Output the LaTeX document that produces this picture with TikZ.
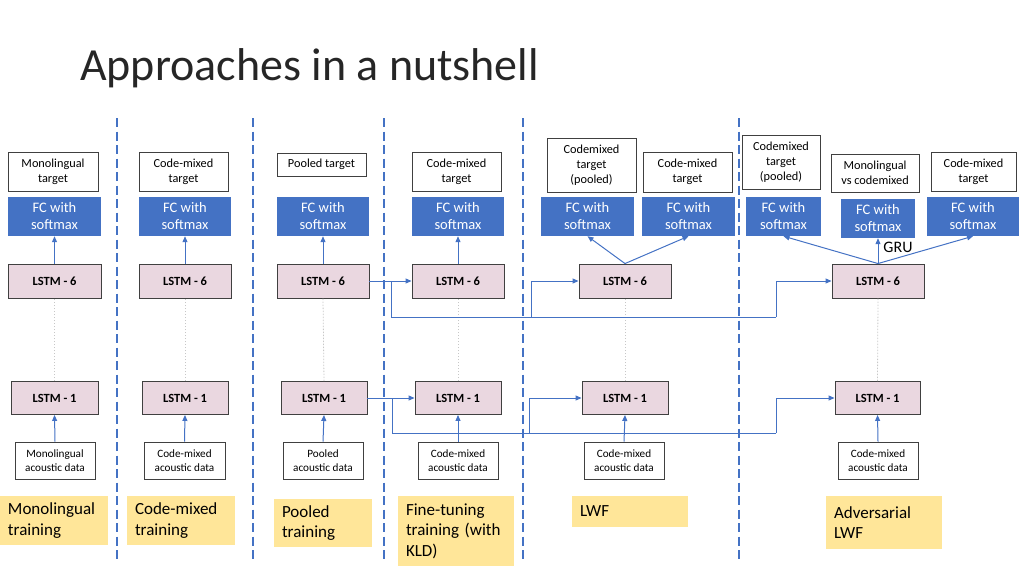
\documentclass[tikz,border=0pt]{standalone}
\usepackage{fontspec}
\setmainfont{Carlito}
\usetikzlibrary{arrows.meta}
\definecolor{fcblue}{RGB}{68,114,196}
\definecolor{pinkl}{RGB}{234,215,224}
\definecolor{yel}{RGB}{255,230,153}
\definecolor{edge}{RGB}{64,64,64}
\tikzset{
  box/.style={inner sep=0pt, align=center},
  tgt/.style={box, draw=edge, fill=white, line width=0.9pt, font=\fontsize{12.3}{15}\selectfont},
  acou/.style={box, draw=edge, fill=white, line width=0.9pt, font=\fontsize{11.2}{14}\selectfont},
  fc/.style={box, fill=fcblue, text=white, font=\fontsize{14.5}{17}\selectfont, minimum height=39pt},
  lstm/.style={box, draw=edge, fill=pinkl, line width=0.9pt, font=\bfseries\fontsize{12.5}{15}\selectfont, minimum height=34pt},
  lab/.style={fill=yel, inner xsep=8pt, inner ysep=0pt, align=left, font=\fontsize{17}{20.5}\selectfont},
  conn/.style={draw=fcblue, line width=1pt},
  arr/.style={conn, -{Triangle[length=6pt,width=5pt]}},
  sep/.style={draw=fcblue, line width=2.7pt, dash pattern=on 9pt off 4.5pt},
  dots/.style={draw=black!22, line width=0.8pt, dash pattern=on 1.5pt off 1.5pt}
}
\begin{document}
\begin{tikzpicture}[x=1pt,y=-1pt]
\useasboundingbox (0,0) rectangle (1024,576);
\node[anchor=base west, inner sep=0pt, font=\fontsize{46}{50}\selectfont, text={rgb,255:red,38;green,38;blue,38}] (title) at (80,80) {Approaches in a nutshell};

% separators
\foreach \x in {117,253,384,523,739} {\draw[sep] (\x,118) -- (\x,562);}

% column 1
\node[tgt, minimum width=90pt, minimum height=39pt] (t1) at (53,171.5) {Monolingual\\target};
\node[fc, minimum width=93pt] (f1) at (54.5,216.5) {FC with\\softmax};
\node[lstm, minimum width=93pt] (l6a) at (54.5,281) {LSTM - 6};
\node[lstm, minimum width=87pt, minimum height=33pt] (l1a) at (54.5,398) {LSTM - 1};
\node[acou, minimum width=80pt, minimum height=37pt] (a1) at (55,460.5) {Monolingual\\acoustic data};
\node[lab, text width=92pt, minimum height=49pt] (y1) at (54,520.5) {Monolingual\\training};

% column 2
\node[tgt, minimum width=89pt, minimum height=39pt] (t2) at (183.5,171.5) {Code-mixed\\target};
\node[fc, minimum width=92pt] (f2) at (185,216.5) {FC with\\softmax};
\node[lstm, minimum width=92pt] (l6b) at (185,281) {LSTM - 6};
\node[lstm, minimum width=86pt, minimum height=33pt] (l1b) at (185,398) {LSTM - 1};
\node[acou, minimum width=81pt, minimum height=37pt] (a2) at (184.5,460.5) {Code-mixed\\acoustic data};
\node[lab, text width=92pt, minimum height=49pt] (y2) at (181,520.5) {Code-mixed\\training};

% column 3
\node[tgt, minimum width=89pt, minimum height=23pt] (t3) at (321.5,164.5) {Pooled target};
\node[fc, minimum width=92pt] (f3) at (323,216.5) {FC with\\softmax};
\node[lstm, minimum width=92pt] (l6c) at (323,281) {LSTM - 6};
\node[lstm, minimum width=86pt, minimum height=33pt] (l1c) at (324,398) {LSTM - 1};
\node[acou, minimum width=80pt, minimum height=37pt] (a3) at (323,460.5) {Pooled\\acoustic data};
\node[lab, text width=82pt, minimum height=48pt] (y3) at (323,523) {Pooled\\training};

% column 4
\node[tgt, minimum width=89pt, minimum height=39pt] (t4) at (456.5,171.5) {Code-mixed\\target};
\node[fc, minimum width=92pt] (f4) at (458,216.5) {FC with\\softmax};
\node[lstm, minimum width=92pt] (l6d) at (458,281) {LSTM - 6};
\node[lstm, minimum width=86pt, minimum height=33pt] (l1d) at (458,398) {LSTM - 1};
\node[acou, minimum width=80pt, minimum height=37pt] (a4) at (458,460.5) {Code-mixed\\acoustic data};
\node[lab, text width=100pt, minimum height=70pt] (y4) at (456,531) {Fine-tuning\\training (with\\KLD)};

% column 5
\node[tgt, minimum width=89pt, minimum height=54pt] (t5a) at (591.5,165) {Codemixed\\target\\(pooled)};
\node[tgt, minimum width=89pt, minimum height=40pt] (t5b) at (687.5,172) {Code-mixed\\target};
\node[fc, minimum width=93pt] (f5a) at (587.5,216.5) {FC with\\softmax};
\node[fc, minimum width=93pt] (f5b) at (688.5,216.5) {FC with\\softmax};
\node[lstm, minimum width=92pt] (l6e) at (625,281) {LSTM - 6};
\node[lstm, minimum width=86pt, minimum height=33pt] (l1e) at (625,398) {LSTM - 1};
\node[acou, minimum width=80pt, minimum height=37pt] (a5) at (624,460.5) {Code-mixed\\acoustic data};
\node[lab, text width=100pt, minimum height=31pt] (y5) at (630,511.5) {LWF};

% column 6
\node[tgt, minimum width=78pt, minimum height=54pt] (t6a) at (781,162) {Codemixed\\target\\(pooled)};
\node[tgt, minimum width=88pt, minimum height=38pt] (t6b) at (875,173) {Monolingual\\vs codemixed};
\node[tgt, minimum width=85pt, minimum height=39pt] (t6c) at (973.5,171.5) {Code-mixed\\target};
\node[fc, minimum width=75pt] (f6a) at (783.5,216.5) {FC with\\softmax};
\node[fc, minimum width=74pt] (f6b) at (878,218.5) {FC with\\softmax};
\node[fc, minimum width=92pt] (f6c) at (973,216.5) {FC with\\softmax};
\node[lstm, minimum width=92pt] (l6f) at (878,281) {LSTM - 6};
\node[lstm, minimum width=85pt, minimum height=33pt] (l1f) at (877.5,398) {LSTM - 1};
\node[acou, minimum width=80pt, minimum height=37pt] (a6) at (878,460.5) {Code-mixed\\acoustic data};
\node[lab, text width=100pt, minimum height=53pt] (y6) at (884,522.5) {Adversarial\\LWF};
\node[inner sep=0pt, font=\fontsize{16}{18}\selectfont] (gru) at (898,247) {GRU};

% vertical arrows
\foreach \a/\b in {a1/l1a,a2/l1b,a3/l1c,a4/l1d,a5/l1e,a6/l1f,l6a/f1,l6b/f2,l6c/f3,l6d/f4}
  {\draw[arr] (\a.north) -- (\b.south);}
\foreach \a/\b in {l1a/l6a,l1b/l6b,l1c/l6c,l1d/l6d,l1e/l6e,l1f/l6f}
  {\draw[dots] (\a.north) -- (\b.south);}

% fan-out
\draw[arr] (l6e.north) -- (f5a.south);
\draw[arr] (l6e.north) -- (f5b.south);
\draw[arr] (l6f.north) -- (f6a.south);
\draw[arr] (l6f.north) -- (f6b.south);
\draw[arr] (l6f.north) -- (f6c.south);

% transfer connectors (LSTM-6)
\coordinate (j6a) at (391,281);
\coordinate (j6b) at (776,317);
\coordinate (j6c) at (531,317);
\draw[arr] (l6c.east) -- (l6d.west);
\draw[conn] (j6a) |- (j6b);
\draw[arr] (j6b) |- (l6f.west);
\draw[arr] (j6c) |- (l6e.west);

% transfer connectors (LSTM-1)
\coordinate (j1a) at (392,398);
\coordinate (j1b) at (776,433);
\coordinate (j1c) at (529,433);
\draw[arr] (l1c.east) -- (l1d.west);
\draw[conn] (j1a) |- (j1b);
\draw[arr] (j1b) |- (l1f.west);
\draw[arr] (j1c) |- (l1e.west);
\end{tikzpicture}
\end{document}
